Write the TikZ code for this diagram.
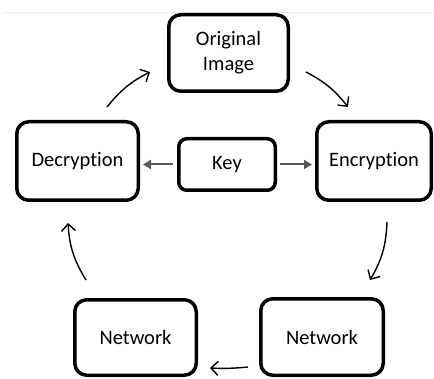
\documentclass[tikz,border=0pt]{standalone}
\usepackage{fontspec}
\setmainfont{Carlito}[Ligatures={NoCommon}]
\usetikzlibrary{arrows.meta}
\definecolor{keygray}{HTML}{595959}
\begin{document}
\begin{tikzpicture}[x=1pt,y=1pt,
  stage/.style={draw=black, line width=3.5pt, rounded corners=12pt, fill=white,
    align=center, font=\fontsize{20.5}{25}\selectfont, inner sep=0pt},
  keybox/.style={stage, rounded corners=8pt},
  flow/.style={line width=1.4pt, -{Straight Barb[length=7pt,width=14pt,line width=1.4pt]}},
  keyarrow/.style={keygray, line width=2pt, -{Triangle[length=8pt,width=9pt]}}
]
\useasboundingbox (0,0) rectangle (434,378);
% thin rule along the top
\draw[black!8, line width=0.6pt] (2,366) -- (434,366);

% stages of the cycle
\node[stage, minimum width=119.5pt, minimum height=76.5pt] (orig) at (228.5,325) {Original\\Image};
\node[stage, minimum width=121.5pt, minimum height=78.5pt] (dec) at (77.5,217) {Decryption};
\node[stage, minimum width=114.5pt, minimum height=78.5pt] (enc) at (374,217) {Encryption};
\node[keybox, minimum width=96.5pt, minimum height=51.5pt] (key) at (227,213.5) {Key};
\node[stage, minimum width=121.5pt, minimum height=75.5pt] (netL) at (135.5,40.5) {Network};
\node[stage, minimum width=122.5pt, minimum height=76.5pt] (netR) at (322,41) {Network};

% free ends of the curved cycle arrows
\coordinate (a1s) at (107,271); \coordinate (a1e) at (150,306);
\coordinate (a2s) at (306,306); \coordinate (a2e) at (348,271);
\coordinate (a3s) at (387,156); \coordinate (a3e) at (370,98);
\coordinate (a4s) at (248,11);  \coordinate (a4e) at (210,10);
\coordinate (a5s) at (86,98);   \coordinate (a5e) at (68,155);

\draw[flow] (a1s) to[bend left=12] (a1e);
\draw[flow] (a2s) to[bend left=12] (a2e);
\draw[flow] (a3s) to[bend left=14] (a3e);
\draw[flow] (a4s) to[bend left=4] (a4e);
\draw[flow] (a5s) to[bend left=14] (a5e);

% key feeds both directions
\draw[keyarrow, shorten <=4pt, shorten >=3pt] (key.west) -- (key.west -| dec.east);
\draw[keyarrow, shorten <=3pt, shorten >=3pt] (key.east) -- (key.east -| enc.west);
\end{tikzpicture}
\end{document}
